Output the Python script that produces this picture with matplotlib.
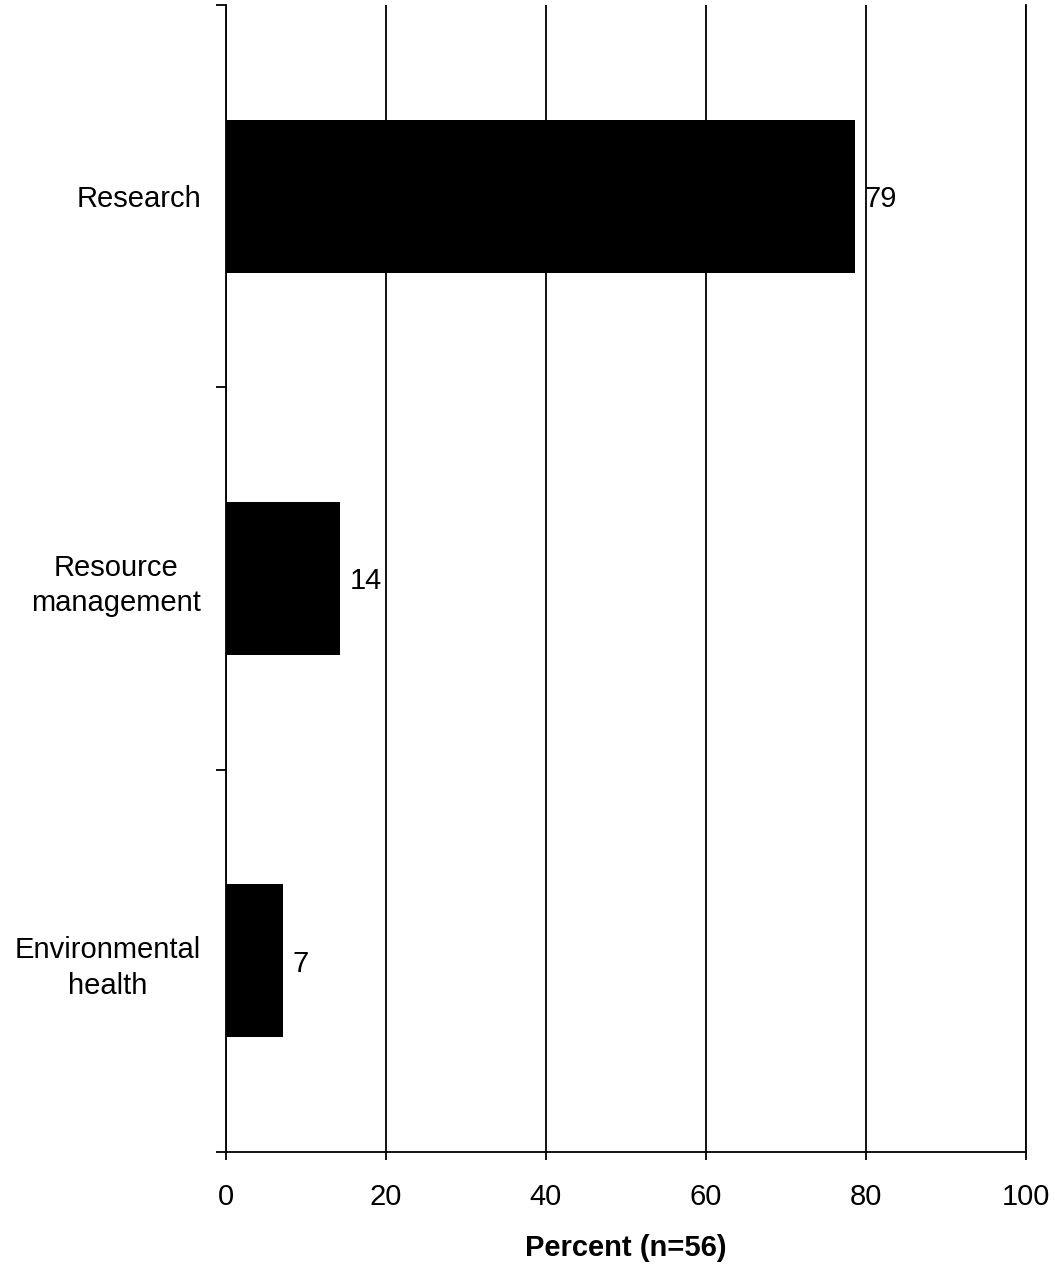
import matplotlib.pyplot as plt
import numpy as np

# ==============================
# DATA
# ==============================

categories = ["Research", "Resource\nmanagement", "Environmental\nhealth"]
percent = [78.6, 14.3, 7.1]
bar_labels = ["79", "14", "7"]
x_ticks = [0, 20, 40, 60, 80, 100]

plt.rcParams['font.family'] = ['Liberation Sans', 'DejaVu Sans']

fig = plt.figure(figsize=(10.55, 12.64), dpi=100)
ax = fig.add_axes([226 / 1055, 1 - 1152 / 1264, 800 / 1055, 1147 / 1264])

pos = np.arange(len(categories))
ax.barh(pos, percent, height=0.4, color='black', zorder=3)

for p, v, lab in zip(pos, percent, bar_labels):
    ax.annotate(lab, (v, p), xytext=(7, -2), textcoords='offset points',
                ha='left', va='center', fontsize=21, zorder=4)

ax.set_xlim(0, 100)
ax.set_ylim(len(categories) - 0.5, -0.5)

lw = 1.3

# grid
ax.set_xticks(x_ticks)
ax.set_xticklabels([str(t) for t in x_ticks])
ax.xaxis.grid(True, color='black', linewidth=lw, zorder=1)
ax.set_axisbelow(True)

# y ticks at category boundaries, labels in the middle
ax.set_yticks(np.arange(-0.5, len(categories), 1.0))
ax.set_yticklabels([])
ax.set_yticks(pos, minor=True)
ax.set_yticklabels(categories, minor=True, fontsize=21,
                   multialignment='center', linespacing=1.35)
ax.tick_params(axis='y', which='minor', length=0, pad=18)
ax.tick_params(axis='y', which='major', length=7.5, width=lw, direction='out')
ax.tick_params(axis='x', length=6, width=lw, labelsize=21, pad=16)

ax.spines['top'].set_visible(False)
for s in ['left', 'bottom', 'right']:
    ax.spines[s].set_linewidth(lw)

ax.set_xlabel('Percent (n=56)', fontsize=21, fontweight='bold', labelpad=17)

fig.savefig("out.png", dpi=100, facecolor='white')
